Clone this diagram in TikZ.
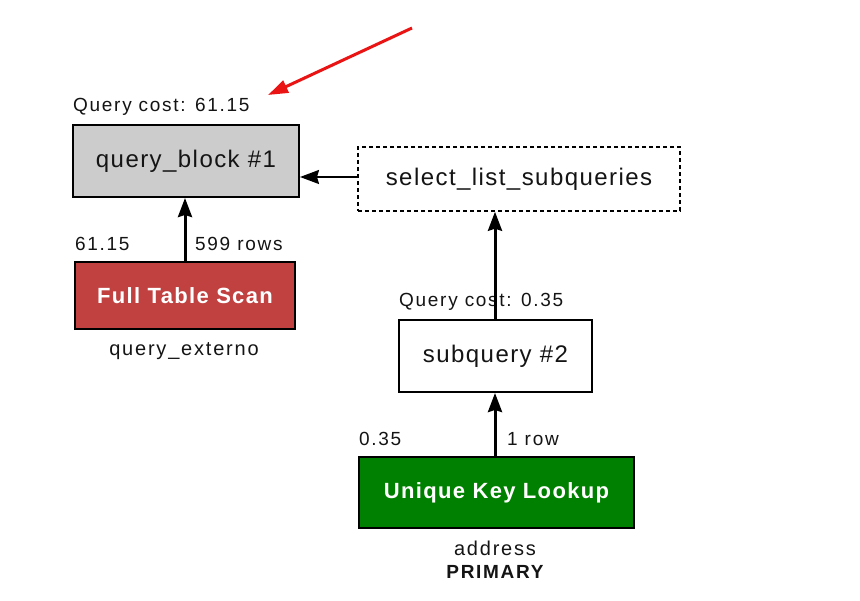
\documentclass[tikz,border=0pt]{standalone}
\usepackage{fontspec}
\setmainfont{Liberation Sans}
\newfontfamily\labfont[LetterSpace=9]{Liberation Sans}
\newfontfamily\boxfont[LetterSpace=6]{Liberation Sans}
\usetikzlibrary{arrows.meta}
\definecolor{qgray}{RGB}{204,204,204}
\definecolor{ftsred}{RGB}{193,64,64}
\definecolor{ukgreen}{RGB}{0,128,0}
\definecolor{txtcol}{RGB}{20,20,20}
\definecolor{redline}{RGB}{235,20,20}
\tikzset{
  opbox/.style={draw=black, line width=2pt, inner sep=0pt, text=txtcol,
    font=\boxfont\fontsize{24}{28}\selectfont},
  accbox/.style={draw=black, line width=2pt, inner sep=0pt, text=white,
    font=\boxfont\bfseries\fontsize{22}{26}\selectfont},
  lab/.style={inner sep=0pt, text=txtcol, font=\labfont\fontsize{19}{22}\selectfont},
  sublab/.style={inner sep=0pt, text=txtcol, font=\labfont\fontsize{20}{23}\selectfont},
  conn/.style={line width=3pt, -{Stealth[length=19pt,width=14pt,inset=2pt]}},
  redarrow/.style={line width=3pt, draw=redline, -{Triangle[length=20pt,width=13pt]}}
}
\begin{document}
\begin{tikzpicture}[x=1pt,y=-1pt]
\useasboundingbox[fill=white] (0,0) rectangle (860,601);

% boxes
\node[opbox, fill=qgray, minimum width=226, minimum height=72] (qb) at (186,161) {query\_block \#1};
\node[opbox, dashed, line width=1.5pt, dash pattern=on 4pt off 3pt, fill=white,
      minimum width=322, minimum height=64] (sel) at (519,179) {select\_list\_subqueries};
\node[accbox, fill=ftsred, minimum width=220, minimum height=67] (fts) at (185,295.5) {Full Table Scan};
\node[opbox, fill=white, minimum width=193, minimum height=72] (sq) at (495.5,356) {subquery \#2};
\node[accbox, fill=ukgreen, minimum width=275, minimum height=71] (uk) at (496.5,492.5) {Unique Key Lookup};

% labels
\node[lab, anchor=base west] (qc1) at (73,112) {Query cost: 61.15};
\node[lab, anchor=base west] (c1) at (75,251) {61.15};
\node[lab, anchor=base west] (r1) at (195,251) {599 rows};
\node[sublab, anchor=base] (t1) at (184,356) {query\_externo};
\node[lab, anchor=base west] (qc2) at (399,307) {Query cost: 0.35};
\node[lab, anchor=base west] (c2) at (359,446) {0.35};
\node[lab, anchor=base west] (r2) at (507,446) {1 row};
\node[sublab, anchor=base] (t2) at (495,555) {address};
\node[lab, anchor=base, font=\labfont\bfseries\fontsize{19}{22}\selectfont] (k2) at (495,578) {PRIMARY};

% connectors
\draw[conn] (fts.north) -- (fts.north |- qb.south);
\draw[conn, line width=2pt] ([yshift=2pt]sel.west) -- ([yshift=2pt]sel.west -| qb.east);
\draw[conn] ([xshift=-0.5pt]sq.north) -- ([xshift=-0.5pt]sq.north |- sel.south);
\draw[conn] ([xshift=-1.5pt]uk.north) -- ([xshift=-1.5pt]uk.north |- sq.south);

% red pointer arrow
\coordinate (rs) at (412,28);
\coordinate (re) at (268,95);
\draw[redarrow] (rs) -- (re);
\end{tikzpicture}
\end{document}
